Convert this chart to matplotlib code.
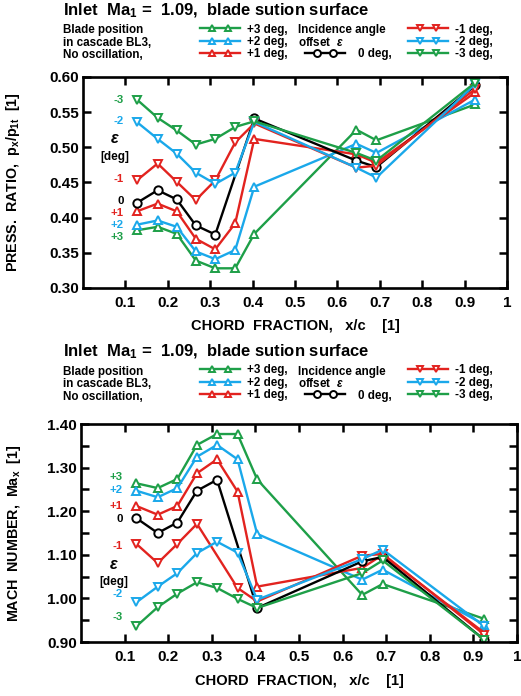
import numpy as np
import matplotlib
matplotlib.use('Agg')
import matplotlib.pyplot as plt
from matplotlib.lines import Line2D
from matplotlib.legend_handler import HandlerLine2D

plt.rcParams['font.family'] = ['Liberation Sans', 'DejaVu Sans']
plt.rcParams['font.weight'] = 'bold'
plt.rcParams['mathtext.fontset'] = 'custom'
plt.rcParams['mathtext.rm'] = 'Liberation Sans:bold'
plt.rcParams['mathtext.bf'] = 'Liberation Sans:bold'
plt.rcParams['mathtext.it'] = 'Liberation Sans:italic'

# chord positions of the pressure taps
chord = np.array([0.127, 0.176, 0.221, 0.266, 0.312, 0.359, 0.404, 0.645, 0.692, 0.925])

# incidence angle offsets
offsets = ['+3', '+2', '+1', '0', '-1', '-2', '-3']

# pressure ratio p_x/p_1t, one list per offset (nan = no point)
pr_p3 = [0.382, 0.387, 0.377, 0.339, 0.328, 0.328, 0.377, 0.525, 0.510, 0.561]
pr_p2 = [0.390, 0.396, 0.387, 0.352, 0.341, 0.354, 0.444, 0.505, 0.492, 0.568]
pr_p1 = [0.409, 0.420, 0.409, 0.370, 0.355, 0.392, 0.512, 0.490, 0.478, 0.578]
pr_0 = [0.421, 0.439, 0.426, 0.389, 0.376, np.nan, 0.541, 0.481, 0.472, 0.588]
pr_m1 = [0.453, 0.477, 0.451, 0.425, 0.453, 0.507, 0.534, 0.471, 0.474, 0.583]
pr_m2 = [0.536, 0.512, 0.491, 0.464, 0.448, 0.464, 0.536, 0.471, 0.457, 0.590]
pr_m3 = [0.568, 0.542, 0.524, 0.504, 0.512, 0.529, 0.537, 0.492, 0.481, 0.592]

# Mach number Ma_x
ma_p3 = [1.264, 1.253, 1.274, 1.352, 1.377, 1.377, 1.273, 1.008, 1.033, 0.953]
ma_p2 = [1.247, 1.232, 1.253, 1.325, 1.352, 1.319, 1.148, 1.043, 1.066, 0.940]
ma_p1 = [1.212, 1.192, 1.212, 1.287, 1.319, 1.245, 1.027, 1.070, 1.100, 0.921]
ma_0 = [1.184, 1.150, 1.174, 1.247, 1.272, np.nan, 0.978, 1.085, 1.095, 0.905]
ma_m1 = [1.125, 1.081, 1.125, 1.171, np.nan, 1.024, 0.993, 1.098, 1.102, 0.917]
ma_m2 = [0.991, 1.027, 1.058, 1.104, 1.130, 1.105, 0.997, 1.090, 1.112, 0.936]
ma_m3 = [0.936, 0.980, 1.011, 1.037, 1.024, 0.999, 0.978, 1.058, 1.087, 0.905]

x_ticks = [0.1, 0.2, 0.3, 0.4, 0.5, 0.6, 0.7, 0.8, 0.9, 1.0]
x_ticklabels = ['0.1', '0.2', '0.3', '0.4', '0.5', '0.6', '0.7', '0.8', '0.9', '1']

GREEN = '#1e9f48'
CYAN = '#1aa8ea'
RED = '#e2231f'
colors = [GREEN, CYAN, RED, 'black', RED, CYAN, GREEN]
markers = ['^', '^', '^', 'o', 'v', 'v', 'v']

W, H = 521, 696
KEY_FS = 8.4


def fx(px):
  return px / W


def fy(py):
  return 1 - py / H


class TwoMarkerHandler(HandlerLine2D):
  # line over the full handle, markers at 30% and 70% like the original key
  def create_artists(self, legend, orig_handle, xdescent, ydescent, width, height, fontsize, trans):
    xdata = -xdescent + width * np.array([0.0, 0.3, 0.7, 1.0])
    ydata = np.full_like(xdata, (height - ydescent) / 2)
    line = Line2D(xdata, ydata)
    self.update_prop(line, orig_handle, legend)
    line.set_markevery([1, 2])
    line.set_markersize(5)
    line.set_transform(trans)
    return [line]


def draw_panel(fig, rect, series, ylim, yticks, yminor, ylabel, ylab_x, side_labels, top):
  ax = fig.add_axes(rect)
  lines = []
  for vals, c, m in zip(series, colors, markers):
    v = np.array(vals, dtype=float)
    ok = ~np.isnan(v)
    ln, = ax.plot(chord[ok], v[ok], color=c, marker=m, ms=6, mew=1.4,
                  mfc='white', mec=c, lw=1.7)
    lines.append(ln)
  ax.set_xlim(0, 1)
  ax.set_ylim(*ylim)
  ax.set_xticks(x_ticks)
  ax.set_xticklabels(x_ticklabels)
  ax.set_yticks(yticks)
  ax.set_yticklabels(['%.2f' % t for t in yticks])
  if yminor is not None:
    ax.set_yticks(yminor, minor=True)
  ax.tick_params(which='both', direction='in', top=True, right=True,
                 length=6, width=1.8, labelsize=11)
  ax.tick_params(axis='x', pad=6)
  ax.tick_params(axis='y', pad=3)
  for s in ax.spines.values():
    s.set_linewidth(1.9)
  ax.set_ylabel(ylabel, fontsize=10.3, fontweight='bold')
  ax.yaxis.set_label_coords(ylab_x, 0.5)
  ax.set_xlabel('CHORD  FRACTION,   x/c    [1]', fontsize=10.5, fontweight='bold')
  ax.xaxis.set_label_coords(0.5, -0.145)

  # offset labels at the left end of the curves
  for txt, yv, c in side_labels:
    if txt == 'eps':
      ax.text(0.076, yv, r'$\varepsilon$', color='black', fontsize=11.5,
              ha='center', va='center')
    elif txt == 'deg':
      ax.text(0.076, yv, '[deg]', color='black', fontsize=8.5,
              ha='center', va='center')
    else:
      ax.text(0.096, yv, txt, color=c, fontsize=8.2, ha='right', va='center')

  # header text and key
  fig.text(fx(63), fy(top), r'Inlet  Ma$_\mathbf{1}$ =  1.09,  blade sution surface',
           fontsize=12, fontweight='bold', va='baseline')
  rows = [top + 18.5, top + 31, top + 43.5]
  left_txt = ['Blade position', 'in cascade BL3,', 'No oscillation,']
  for r, t in zip(rows, left_txt):
    fig.text(fx(63), fy(r), t, fontsize=KEY_FS, va='baseline')
  fig.text(fx(298), fy(rows[0]), 'Incidence angle', fontsize=KEY_FS, va='baseline')
  fig.text(fx(298), fy(rows[1]), r'offset  $\varepsilon$', fontsize=KEY_FS, va='baseline')

  opts = dict(loc='upper left', frameon=False, fontsize=KEY_FS, labelspacing=0.02,
              borderpad=0, borderaxespad=0, handlelength=3.4, handletextpad=0.6,
              handler_map={Line2D: TwoMarkerHandler()})
  fig.legend(lines[0:3], ['+3 deg,', '+2 deg,', '+1 deg,'],
             bbox_to_anchor=(fx(200), fy(top + 8.5)), **opts)
  fig.legend(lines[4:7], ['-1 deg,', '-2 deg,', '-3 deg,'],
             bbox_to_anchor=(fx(408), fy(top + 8.5)), **opts)
  opts['handletextpad'] = 1.1
  fig.legend([lines[3]], ['0 deg,'],
             bbox_to_anchor=(fx(305), fy(top + 33.5)), **opts)
  return ax


fig = plt.figure(figsize=(W / 100, H / 100), dpi=100)

pr_series = [pr_p3, pr_p2, pr_p1, pr_0, pr_m1, pr_m2, pr_m3]
pr_labels = [('-3', 0.568, GREEN), ('-2', 0.537, CYAN), ('eps', 0.513, 'k'),
             ('deg', 0.486, 'k'), ('-1', 0.455, RED), ('0', 0.424, 'k'),
             ('+1', 0.407, RED), ('+2', 0.390, CYAN), ('+3', 0.373, GREEN)]
draw_panel(fig, [fx(83), fy(288), 424 / W, 211 / H], pr_series, (0.30, 0.60),
           [0.30, 0.35, 0.40, 0.45, 0.50, 0.55, 0.60], None,
           r'PRESS.  RATIO,  p$_\mathrm{x}$/p$_\mathrm{1t}$  [1]', -0.145, pr_labels, 15)

ma_series = [ma_p3, ma_p2, ma_p1, ma_0, ma_m1, ma_m2, ma_m3]
ma_labels = [('+3', 1.278, GREEN), ('+2', 1.249, CYAN), ('+1', 1.212, RED),
             ('0', 1.183, 'k'), ('-1', 1.120, RED), ('eps', 1.077, 'k'),
             ('deg', 1.038, 'k'), ('-2', 1.011, CYAN), ('-3', 0.958, GREEN)]
draw_panel(fig, [fx(81), fy(642), 436 / W, 218 / H], ma_series, (0.90, 1.40),
           [0.90, 1.00, 1.10, 1.20, 1.30, 1.40],
           [0.95, 1.05, 1.15, 1.25, 1.35],
           r'MACH  NUMBER,  Ma$_\mathrm{x}$  [1]', -0.133, ma_labels, 356)

fig.savefig('out.png', dpi=100)
